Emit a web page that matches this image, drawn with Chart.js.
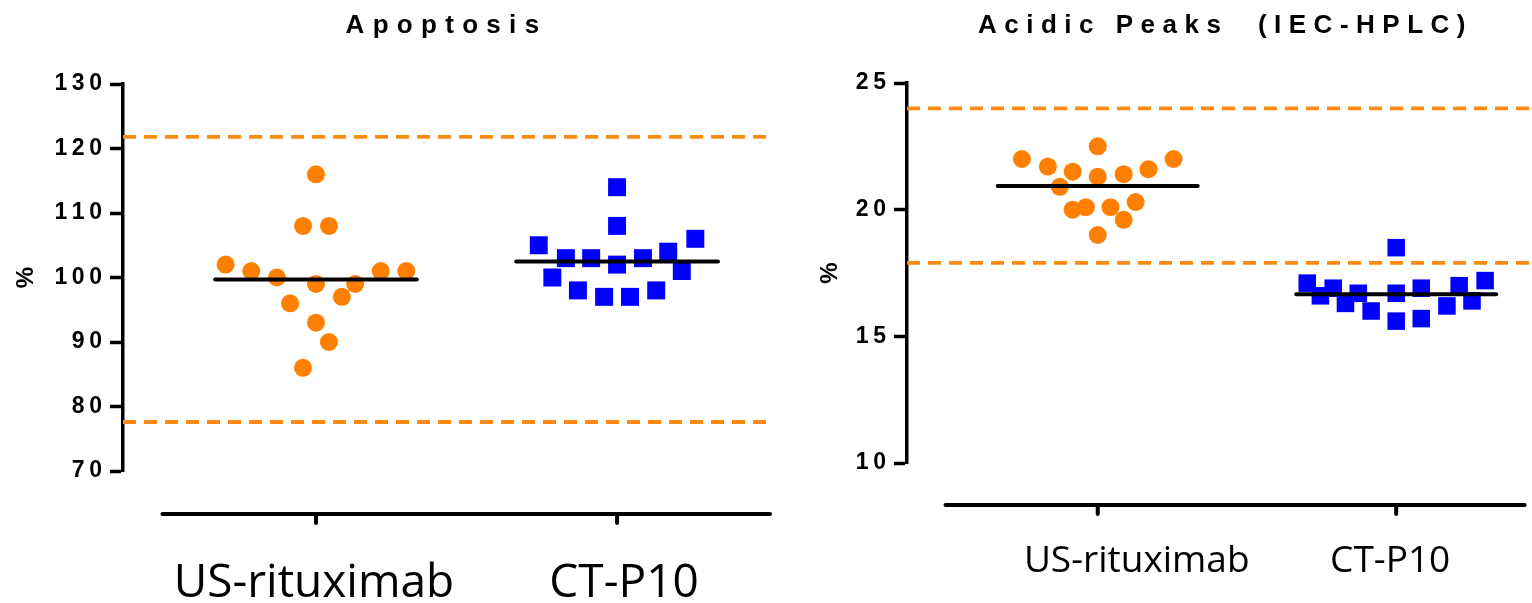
<!DOCTYPE html>
<html>
<head>
<meta charset="utf-8">
<script src="https://cdn.jsdelivr.net/npm/chart.js@4.4.0/dist/chart.umd.min.js"></script>
<style>
    html, body { margin: 0; padding: 0; background: #fff; }
    #wrap { position: relative; width: 1532px; height: 603px; overflow: hidden; }
    .panel { position: absolute; top: 0; height: 603px; }
</style>
</head>
<body>
<div id="wrap">
    <div class="panel" style="left:0;width:800px"><canvas id="apoptosis"></canvas></div>
    <div class="panel" style="left:800px;width:732px"><canvas id="acidic"></canvas></div>
</div>
<script>
'use strict';

var categories = ['US-rituximab', 'CT-P10'];

// Apoptosis, %
var apoptosisUs = [116, 108, 108, 102, 101, 100, 99, 99, 101, 101, 96, 97, 93, 90, 86];
var apoptosisUsJitter = [0, -0.043, 0.043, -0.30, -0.215, -0.13, 0, 0.13, 0.215, 0.30, -0.086, 0.086, 0, 0.043, -0.043];
var apoptosisCt = [114, 108, 105, 103, 103, 102, 103, 104, 106, 100, 98, 97, 97, 98, 101];
var apoptosisCtJitter = [0, 0, -0.26, -0.17, -0.086, 0, 0.086, 0.17, 0.26, -0.215, -0.13, -0.043, 0.043, 0.13, 0.215];
var apoptosisMeans = [99.7, 102.5];
var apoptosisLimits = [121.8, 77.6];
var apoptosisTicks = [70, 80, 90, 100, 110, 120, 130];

// Acidic peaks (IEC-HPLC), %
var acidicUs = [22.0, 21.7, 21.5, 22.5, 21.3, 21.4, 21.6, 22.0, 20.9, 20.0, 20.1, 20.1, 20.3, 19.6, 19.0];
var acidicUsJitter = [-0.254, -0.167, -0.084, 0, 0, 0.087, 0.17, 0.254, -0.127, -0.084, -0.04, 0.043, 0.127, 0.087, 0];
var acidicCt = [18.5, 17.1, 16.6, 16.9, 16.3, 16.7, 16.0, 16.7, 15.6, 16.9, 15.7, 16.2, 17.0, 16.4, 17.2];
var acidicCtJitter = [0, -0.298, -0.254, -0.211, -0.17, -0.127, -0.084, 0, 0, 0.084, 0.084, 0.17, 0.211, 0.254, 0.298];
var acidicMeans = [20.93, 16.66];
var acidicLimits = [24.0, 17.9];
var acidicTicks = [10, 15, 20, 25];

var ORANGE = '#ff8000';
var DASH_ORANGE = '#ff8a12';
var BLUE = '#0000ff';
var MEAN_HALF = 0.335;
var AXIS_FONT = '"Liberation Sans", Arial, sans-serif';

function jittered(values, jitter, center) {
    return values.map(function (v, i) {
        return {x: center + jitter[i], y: v};
    });
}

// GraphPad-style detached x axis, its labels, and a letter-spaced title
var prismAxis = {
    id: 'prismAxis',
    afterDraw: function (chart, args, opts) {
        var ctx = chart.ctx, area = chart.chartArea, xs = chart.scales.x;
        var y = area.bottom + opts.gap;
        ctx.save();
        ctx.strokeStyle = '#000';
        ctx.lineWidth = 4;
        ctx.lineCap = 'round';
        ctx.beginPath();
        ctx.moveTo(xs.getPixelForValue(opts.start), y);
        ctx.lineTo(xs.getPixelForValue(opts.end), y);
        categories.forEach(function (c, i) {
            var px = xs.getPixelForValue(i + 1);
            ctx.moveTo(px, y);
            ctx.lineTo(px, y + 9);
        });
        ctx.stroke();

        ctx.fillStyle = '#000';
        ctx.textAlign = 'center';
        ctx.textBaseline = 'alphabetic';
        ctx.font = opts.labelSize + 'px "Open Sans", sans-serif';
        categories.forEach(function (c, i) {
            ctx.fillText(c, xs.getPixelForValue(i + 1) + opts.labelShift[i], area.bottom + opts.labelBase);
        });

        ctx.font = 'bold 26px ' + AXIS_FONT;
        ctx.letterSpacing = opts.spacing + 'px';
        ctx.fillText(opts.title, (area.left + area.right) / 2 + opts.shift, 33);
        ctx.restore();
    }
};

function spaced(v) {
    return String(v).split('').join('\u2009');
}

function makePanel(id, p) {
    var datasets = [];
    p.means.forEach(function (m, i) {
        datasets.push({
            label: categories[i] + ' mean',
            data: [{x: i + 1 - MEAN_HALF, y: m}, {x: i + 1 + MEAN_HALF, y: m}],
            showLine: true,
            borderColor: '#000',
            borderWidth: 4,
            borderCapStyle: 'round',
            pointRadius: 0,
            order: 0
        });
    });
    datasets.push({
        label: categories[0],
        data: jittered(p.us, p.usJitter, 1),
        pointStyle: 'circle',
        pointRadius: p.circleR,
        backgroundColor: ORANGE,
        borderWidth: 0,
        order: 1
    });
    datasets.push({
        label: categories[1],
        data: jittered(p.ct, p.ctJitter, 2),
        pointStyle: 'rect',
        pointRadius: p.rectR,
        backgroundColor: BLUE,
        borderWidth: 0,
        order: 1
    });
    p.limits.forEach(function (l) {
        datasets.push({
            label: 'limit',
            data: [{x: p.xMin, y: l}, {x: p.xMax, y: l}],
            showLine: true,
            borderColor: DASH_ORANGE,
            borderWidth: 3.8,
            borderDash: [13, 8],
            pointRadius: 0,
            order: 2
        });
    });

    return new Chart(document.getElementById(id), {
        type: 'scatter',
        data: {datasets: datasets},
        plugins: [prismAxis],
        options: {
            responsive: true,
            maintainAspectRatio: false,
            animation: false,
            events: [],
            layout: {autoPadding: false, padding: {left: 0, top: p.top, right: p.right, bottom: 0}},
            plugins: {
                legend: {display: false},
                tooltip: {enabled: false},
                prismAxis: {
                    gap: p.axisGap, start: 0.49, end: p.xEnd,
                    labelSize: p.labelSize, labelBase: p.labelBase, labelShift: p.labelShift,
                    title: p.title, spacing: p.titleSpacing, shift: p.titleShift
                }
            },
            scales: {
                x: {
                    type: 'linear',
                    min: p.xMin,
                    max: p.xMax,
                    afterFit: function (s) { s.height = p.xHeight; },
                    grid: {display: false, drawTicks: false},
                    border: {display: false},
                    ticks: {display: false}
                },
                y: {
                    min: p.ticks[0],
                    max: p.ticks[p.ticks.length - 1],
                    afterFit: function (s) { s.width = p.yWidth; },
                    afterBuildTicks: function (s) {
                        s.ticks = p.ticks.map(function (t) { return {value: t}; });
                    },
                    grid: {
                        drawOnChartArea: false,
                        drawTicks: true,
                        tickLength: 13,
                        tickWidth: 3.5,
                        tickColor: '#000'
                    },
                    border: {display: true, color: '#000', width: 3.5},
                    ticks: {
                        padding: 8,
                        color: '#000',
                        font: {family: AXIS_FONT, size: 23, weight: 'bold'},
                        callback: function (v) { return spaced(v); }
                    },
                    title: {
                        display: true,
                        text: '%',
                        color: '#000',
                        padding: {top: p.titlePad, bottom: 0},
                        font: {family: AXIS_FONT, size: 24, weight: 'bold'}
                    }
                }
            }
        }
    });
}

makePanel('apoptosis', {
    title: 'Apoptosis', titleSpacing: 8.3, titleShift: 0,
    us: apoptosisUs, usJitter: apoptosisUsJitter,
    ct: apoptosisCt, ctJitter: apoptosisCtJitter,
    means: apoptosisMeans, limits: apoptosisLimits, ticks: apoptosisTicks,
    xMin: 0.359, xMax: 2.508, xEnd: 2.508,
    top: 84, right: 30, yWidth: 123, xHeight: 132,
    axisGap: 43, labelSize: 46, labelBase: 126, labelShift: [-2, 7], titlePad: 12,
    circleR: 9, rectR: 12.7
});

makePanel('acidic', {
    title: 'Acidic Peaks  (IEC-HPLC)', titleSpacing: 7.5, titleShift: 6,
    us: acidicUs, usJitter: acidicUsJitter,
    ct: acidicCt, ctJitter: acidicCtJitter,
    means: acidicMeans, limits: acidicLimits, ticks: acidicTicks,
    xMin: 0.361, xMax: 2.455, xEnd: 2.43,
    top: 83, right: 0, yWidth: 107, xHeight: 140,
    axisGap: 42, labelSize: 37, labelBase: 109, labelShift: [39, -6], titlePad: 16,
    circleR: 9, rectR: 12.4
});
</script>
</body>
</html>
